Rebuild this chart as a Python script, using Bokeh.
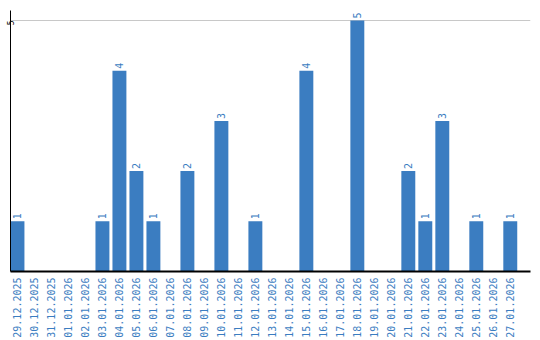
import math
from bokeh.plotting import figure
from bokeh.models import ColumnDataSource, Range1d, FixedTicker
from bokeh.core.properties import value
from bokeh.embed import file_html
from bokeh.resources import INLINE

dates = ["29.12.2025", "30.12.2025", "31.12.2025", "01.01.2026", "02.01.2026",
         "03.01.2026", "04.01.2026", "05.01.2026", "06.01.2026", "07.01.2026",
         "08.01.2026", "09.01.2026", "10.01.2026", "11.01.2026", "12.01.2026",
         "13.01.2026", "14.01.2026", "15.01.2026", "16.01.2026", "17.01.2026",
         "18.01.2026", "19.01.2026", "20.01.2026", "21.01.2026", "22.01.2026",
         "23.01.2026", "24.01.2026", "25.01.2026", "26.01.2026", "27.01.2026"]
counts = [1, 0, 0, 0, 0, 1, 4, 2, 1, 0, 2, 0, 3, 0, 1, 0, 0, 4, 0, 0, 5, 0, 0, 2, 1, 3, 0, 1, 0, 1]

BLUE = "#3b7dc1"
FONT = "DejaVu Sans Mono"

xs = [i + 0.41 for i in range(len(dates))]
src = ColumnDataSource(dict(x=xs, top=counts))
nz = [i for i, c in enumerate(counts) if c > 0]
lsrc = ColumnDataSource(dict(x=[xs[i] for i in nz], y=[counts[i] for i in nz],
                             label=[str(counts[i]) for i in nz]))

p = figure(width=540, height=340, output_backend="svg", toolbar_location=None,
           x_range=Range1d(0, 30.6), y_range=Range1d(0, 5.2),
           min_border_left=0, min_border_right=10, min_border_top=10, min_border_bottom=0)
p.outline_line_color = None
p.background_fill_color = "white"

p.vbar(x="x", top="top", width=0.82, bottom=0, source=src, color=BLUE, line_color=None)
p.text(x="x", y="y", text="label", source=lsrc, angle=math.pi / 2, text_align="left",
       text_baseline="middle", y_offset=-2, text_color=BLUE,
       text_font=value(FONT), text_font_size="10px")

p.xgrid.visible = False
p.ygrid.ticker = FixedTicker(ticks=[5])
p.ygrid.grid_line_color = "#c8c8c8"
p.ygrid.grid_line_width = 1

xa = p.xaxis[0]
xa.ticker = FixedTicker(ticks=xs)
xa.major_label_overrides = {x: d for x, d in zip(xs, dates)}
xa.major_label_orientation = math.pi / 2
xa.major_tick_line_color = None
xa.minor_tick_line_color = None
xa.major_tick_out = 0
xa.major_tick_in = 0
xa.major_label_standoff = 6
xa.major_label_text_color = BLUE
xa.major_label_text_font = FONT
xa.major_label_text_font_size = "10px"
xa.axis_line_color = "black"
xa.axis_line_width = 2

ya = p.yaxis[0]
ya.ticker = FixedTicker(ticks=[5])
ya.major_label_orientation = math.pi / 2
ya.major_tick_line_color = None
ya.minor_tick_line_color = None
ya.major_tick_out = 0
ya.major_tick_in = 0
ya.major_label_standoff = 0
ya.major_label_text_color = "black"
ya.major_label_text_font = FONT
ya.major_label_text_font_size = "8px"
ya.axis_line_color = "black"
ya.axis_line_width = 1

open("out.html", "w").write(file_html(p, INLINE))
